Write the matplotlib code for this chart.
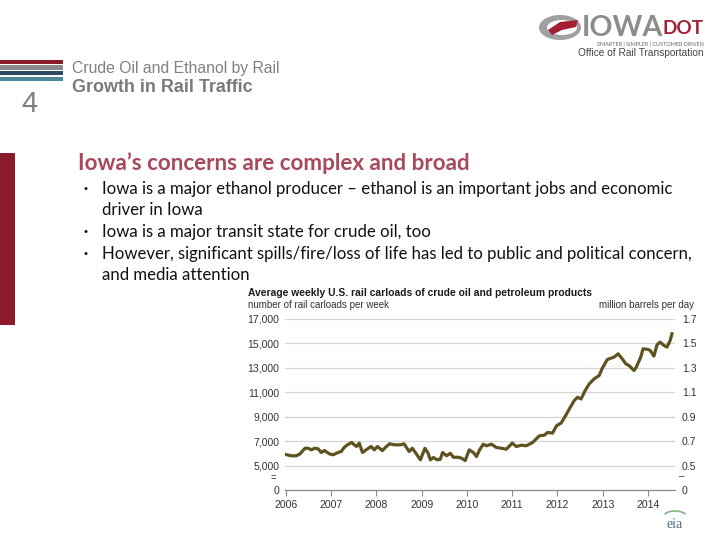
import matplotlib
matplotlib.use("Agg")
import matplotlib.pyplot as plt
from matplotlib.patches import Rectangle, Ellipse, Polygon
import numpy as np

# ---------------- data ----------------
years = [2006.00, 2006.12, 2006.23, 2006.31, 2006.42, 2006.49, 2006.56, 2006.64, 2006.71, 2006.78,
         2006.85, 2006.96, 2007.04, 2007.15, 2007.22, 2007.29, 2007.36, 2007.45, 2007.51, 2007.56,
         2007.62, 2007.69, 2007.77, 2007.88, 2007.95, 2008.02, 2008.13, 2008.20, 2008.29, 2008.39,
         2008.53, 2008.61, 2008.72, 2008.79, 2008.88, 2008.97, 2009.07, 2009.14, 2009.19, 2009.26,
         2009.34, 2009.41, 2009.46, 2009.55, 2009.63, 2009.70, 2009.81, 2009.88, 2009.96, 2010.05,
         2010.14, 2010.21, 2010.28, 2010.36, 2010.43, 2010.54, 2010.65, 2010.76, 2010.87, 2011.00,
         2011.09, 2011.20, 2011.31, 2011.45, 2011.60, 2011.71, 2011.78, 2011.89, 2011.98, 2012.08,
         2012.17, 2012.26, 2012.37, 2012.44, 2012.52, 2012.61, 2012.70, 2012.81, 2012.92, 2012.99,
         2013.10, 2013.18, 2013.25, 2013.34, 2013.43, 2013.51, 2013.58, 2013.69, 2013.74, 2013.84,
         2013.89, 2014.00, 2014.05, 2014.13, 2014.20, 2014.27, 2014.35, 2014.42, 2014.49, 2014.53]
carloads = [5900, 5800, 5800, 5960, 6420, 6420, 6290, 6420, 6370, 6070,
            6230, 5960, 5880, 6070, 6150, 6500, 6700, 6890, 6700, 6560,
            6840, 6070, 6290, 6560, 6290, 6560, 6230, 6500, 6780, 6700,
            6700, 6780, 6150, 6420, 5960, 5470, 6420, 6010, 5470, 5660,
            5470, 5520, 6070, 5800, 6010, 5680, 5680, 5600, 5410, 6290,
            6070, 5740, 6300, 6750, 6620, 6750, 6480, 6420, 6340, 6840,
            6560, 6670, 6620, 6890, 7440, 7490, 7710, 7660, 8260, 8480,
            9030, 9630, 10320, 10590, 10450, 11140, 11680, 12100, 12370, 12970,
            13680, 13790, 13880, 14150, 13740, 13330, 13190, 12780, 13050, 13880,
            14560, 14510, 14420, 13960, 14890, 15110, 14840, 14700, 15250, 15790]

left_ticks = [0, 5000, 7000, 9000, 11000, 13000, 15000, 17000]
left_labels = ["0", "5,000", "7,000", "9,000", "11,000", "13,000", "15,000", "17,000"]
right_labels = ["0", "0.5", "0.7", "0.9", "1.1", "1.3", "1.5", "1.7"]
year_ticks = [2006, 2007, 2008, 2009, 2010, 2011, 2012, 2013, 2014]
year_labels = ["2006", "2007", "2008", "2009", "2010", "2011", "2012", "2013", "2014"]

chart_title = "Average weekly U.S. rail carloads of crude oil and petroleum products"
left_unit = "number of rail carloads per week"
right_unit = "million barrels per day"

slide_kicker = "Crude Oil and Ethanol by Rail"
slide_title = "Growth in Rail Traffic"
slide_num = "4"
heading = "Iowa\u2019s concerns are complex and broad"
bullet_lines = [
    ("\u2022", "Iowa is a major ethanol producer \u2013 ethanol is an important jobs and economic"),
    ("", "driver in Iowa"),
    ("\u2022", "Iowa is a major transit state for crude oil, too"),
    ("\u2022", "However, significant spills/fire/loss of life has led to public and political concern,"),
    ("", "and media attention"),
]

# ---------------- figure ----------------
W, H = 720, 540
fig = plt.figure(figsize=(7.2, 5.4), dpi=100)
fig.patch.set_facecolor("white")


def P(x, y):
    return (x / W, 1 - y / H)


renderer = fig.canvas.get_renderer()


def fit(t, target):
    w = t.get_window_extent(renderer).width
    t.set_fontsize(t.get_fontsize() * target / w)
    return t


ARIAL = ["Liberation Sans", "DejaVu Sans"]
NARROW = ["Liberation Sans Narrow", "Lato", "DejaVu Sans"]

# decorative stripes
bg = fig.add_axes([0, 0, 1, 1], zorder=-5)
bg.set_xlim(0, W)
bg.set_ylim(H, 0)
bg.axis("off")
for (y0, y1, c) in [(60, 63.5, "#8B1A2B"), (65, 69.5, "#8A898D"),
                    (70.5, 75, "#2F4760"), (76.5, 80.5, "#4B8799")]:
    bg.add_patch(Rectangle((0, y0), 63, y1 - y0, color=c, lw=0))
bg.add_patch(Rectangle((0, 153), 15, 172, color="#8B1A2A", lw=0))

# logo swoosh
bg.add_patch(Ellipse((560, 27.5), 42, 25, color="#A0A0A0", lw=0))
bg.add_patch(Ellipse((562, 27.5), 30, 15, color="white", lw=0))
bg.add_patch(Polygon([[548, 30], [560, 22], [578, 20], [576, 27], [562, 30], [552, 35]],
                     closed=True, color="#A31F34", lw=0))
# eia logo arc
th = np.linspace(0.15 * np.pi, 0.85 * np.pi, 30)
bg.plot(675 + 11 * np.cos(th), 516 - 5 * np.sin(th), color="#7FB77E", lw=1.2)

# slide texts
fig.text(*P(29, 104), slide_num, fontsize=21, color="#7F7F7F", ha="center", va="center",
         family=ARIAL)
t = fig.text(*P(72, 68), slide_kicker, fontsize=10.5, color="#808080", ha="left", va="center",
             family=ARIAL)
fit(t, 210)
t = fig.text(*P(72, 87), slide_title, fontsize=11, color="#7A7A7A", ha="left", va="center",
             family=ARIAL, weight="bold")
fit(t, 181)

t = fig.text(*P(582, 28), "IOWA", fontsize=20, color="#8C8C8C", ha="left", va="center",
             family=NARROW, weight="bold")
fit(t, 81)
t = fig.text(*P(663, 28), "DOT", fontsize=20, color="#A31F34", ha="left", va="center",
             family=NARROW, weight="bold")
fit(t, 41)
t = fig.text(*P(704, 44), "SMARTER | SIMPLER | CUSTOMER DRIVEN", fontsize=4, color="#666666",
             ha="right", va="center", family=NARROW)
fit(t, 107)
t = fig.text(*P(704, 53), "Office of Rail Transportation", fontsize=8, color="#444444",
             ha="right", va="center", family=ARIAL)
fit(t, 126)

t = fig.text(*P(78, 163), heading, fontsize=16, color="#A8485A", ha="left", va="center",
             family=NARROW, weight="bold")
fit(t, 392)

ys = [189, 210, 232, 254, 275]
body_fs = None
for (b, line), y in zip(bullet_lines, ys):
    if b:
        fig.text(*P(86, y), b, fontsize=8, color="#111111", ha="center", va="center",
                 family=ARIAL)
    tt = fig.text(*P(102, y), line, fontsize=12, color="#111111", ha="left", va="center",
                  family=NARROW)
    if body_fs is None:
        fit(tt, 570)
        body_fs = tt.get_fontsize()
    else:
        tt.set_fontsize(body_fs)

# ---------------- chart ----------------
def fwd(v):
    v = np.asarray(v, dtype=float)
    return np.where(v < 5000, 3000 + v * 0.4, v)


def inv(v):
    v = np.asarray(v, dtype=float)
    return np.where(v < 5000, (v - 3000) / 0.4, v)


x0, x1 = 285, 675
ytop, ybot = 319, 490
ax = fig.add_axes([x0 / W, 1 - ybot / H, (x1 - x0) / W, (ybot - ytop) / H])
ax.set_yscale("function", functions=(fwd, inv))
ax.set_ylim(0, 17000)
px_per_year = (648 - 286) / 8.0
ax.set_xlim(2006 - (286 - x0) / px_per_year, 2006 + (x1 - 286) / px_per_year)

ax.plot(years, carloads, color="#5E5320", lw=2.3, solid_joinstyle="round", zorder=3)

ax.set_yticks(left_ticks)
ax.set_yticklabels(left_labels)
ax.yaxis.set_minor_locator(matplotlib.ticker.NullLocator())
ax.set_xticks(year_ticks)
ax.set_xticklabels(year_labels)
ax.grid(axis="y", color="#D6D6D6", lw=0.9)
ax.grid(axis="x", visible=False)
for s in ["top", "right", "left"]:
    ax.spines[s].set_visible(False)
ax.spines["bottom"].set_color("#8C8C8C")
ax.spines["bottom"].set_linewidth(0.9)
ax.tick_params(axis="y", length=0, pad=4, labelsize=7.6, labelcolor="#333333")
ax.tick_params(axis="x", length=4, width=0.8, color="#8C8C8C", pad=3, labelsize=7.6,
               labelcolor="#333333")
for lab in ax.get_xticklabels() + ax.get_yticklabels():
    lab.set_family(ARIAL)

ax2 = ax.twinx()
ax2.set_yscale("function", functions=(fwd, inv))
ax2.set_ylim(ax.get_ylim())
ax2.set_yticks(left_ticks)
ax2.set_yticklabels(right_labels)
ax2.yaxis.set_minor_locator(matplotlib.ticker.NullLocator())
for s in ["top", "right", "left", "bottom"]:
    ax2.spines[s].set_visible(False)
ax2.tick_params(axis="y", length=0, pad=5, labelsize=7.6, labelcolor="#333333")
for lab in ax2.get_yticklabels():
    lab.set_family(ARIAL)

# break marks
fig.text(*P(273, 478), "=", fontsize=7, color="#333333", ha="center", va="center", family=ARIAL)
fig.text(*P(682, 476), "\u2013", fontsize=7, color="#333333", ha="center", va="center", family=ARIAL)

# chart titles
t = fig.text(*P(248, 293), chart_title, fontsize=7, color="#1A1A1A", ha="left", va="center",
             family=ARIAL, weight="bold")
fit(t, 344)
fig.text(*P(248, 305), left_unit, fontsize=7, color="#333333", ha="left", va="center",
         family=ARIAL)
fig.text(*P(694, 305), right_unit, fontsize=7, color="#333333", ha="right", va="center",
         family=ARIAL)
fig.text(*P(675, 524), "eia", fontsize=10, color="#4A6A8A", ha="center", va="center",
         family=["Liberation Serif", "DejaVu Serif"])

fig.savefig("out.png", dpi=100, facecolor="white")
